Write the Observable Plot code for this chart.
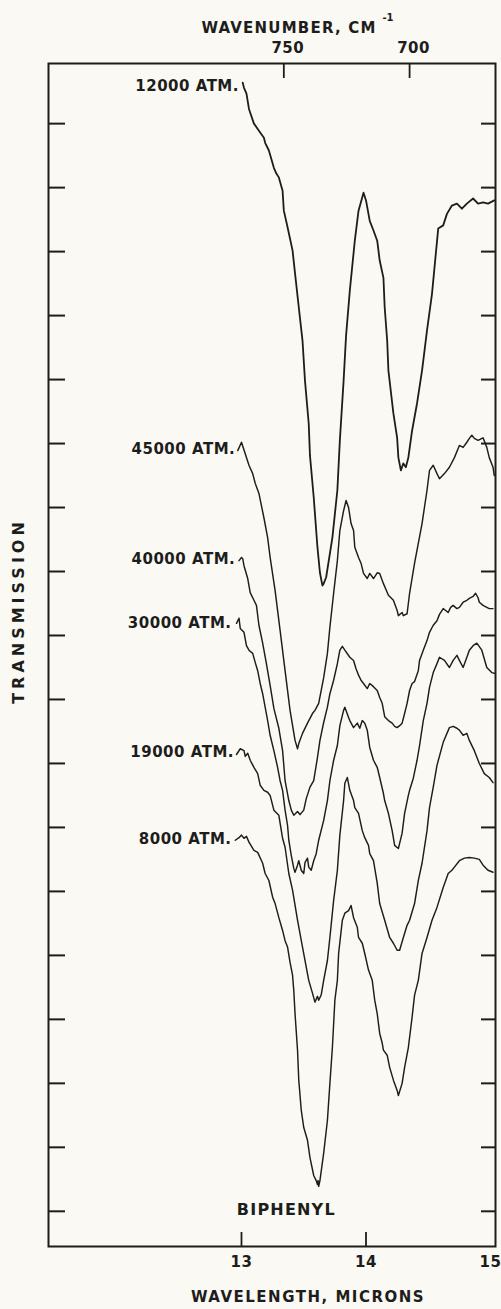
<!DOCTYPE html>
<html><head><meta charset="utf-8">
<script src="https://cdn.jsdelivr.net/npm/d3@7"></script>
<script src="https://cdn.jsdelivr.net/npm/@observablehq/plot@0.6"></script>
<style>
html,body{margin:0;padding:0;background:#faf9f4;}
#chart svg{display:block;}
</style></head><body><div id="chart"></div>
<script>
// Wavelength (microns) vs transmission (chart divisions, offset per pressure)
const s12000 = [[13.01,17.64],[13.02,17.56],[13.04,17.47],[13.06,17.23],[13.10,17.00],[13.14,16.89],[13.18,16.78],[13.19,16.70],[13.22,16.58],[13.26,16.31],[13.28,16.22],[13.30,16.16],[13.33,15.95],[13.34,15.64],[13.37,15.38],[13.41,15.02],[13.43,14.66],[13.46,14.13],[13.49,13.61],[13.51,12.98],[13.54,12.31],[13.55,11.81],[13.58,11.16],[13.61,10.38],[13.63,9.98],[13.65,9.78],[13.66,9.81],[13.68,9.91],[13.73,10.53],[13.77,11.27],[13.79,12.05],[13.82,12.98],[13.84,13.69],[13.87,14.39],[13.91,15.17],[13.94,15.64],[13.98,15.92],[14.00,15.80],[14.03,15.48],[14.06,15.33],[14.09,15.17],[14.11,14.86],[14.14,14.59],[14.15,14.13],[14.17,13.61],[14.18,13.14],[14.22,12.47],[14.25,12.09],[14.26,11.78],[14.28,11.58],[14.30,11.69],[14.32,11.63],[14.34,11.78],[14.37,12.20],[14.41,12.63],[14.45,13.14],[14.49,13.77],[14.53,14.34],[14.55,14.75],[14.58,15.36],[14.62,15.41],[14.65,15.59],[14.69,15.72],[14.73,15.75],[14.77,15.67],[14.81,15.75],[14.86,15.83],[14.90,15.75],[14.94,15.77],[14.98,15.75],[15.03,15.80]];
const s45000 = [[12.97,11.89],[13.00,12.02],[13.03,11.84],[13.06,11.66],[13.09,11.53],[13.11,11.38],[13.14,11.22],[13.18,10.84],[13.21,10.53],[13.23,10.22],[13.27,9.70],[13.31,9.08],[13.35,8.45],[13.39,7.83],[13.43,7.36],[13.45,7.23],[13.46,7.31],[13.49,7.47],[13.53,7.63],[13.57,7.78],[13.59,7.83],[13.62,7.94],[13.66,8.34],[13.69,8.72],[13.71,9.13],[13.74,9.66],[13.77,10.17],[13.79,10.64],[13.82,10.95],[13.84,11.11],[13.86,11.00],[13.88,10.75],[13.90,10.64],[13.91,10.38],[13.94,10.22],[13.96,10.13],[13.98,9.97],[14.01,9.89],[14.03,9.97],[14.06,9.89],[14.09,9.98],[14.11,9.97],[14.14,9.81],[14.18,9.63],[14.22,9.55],[14.25,9.39],[14.26,9.31],[14.29,9.36],[14.30,9.31],[14.33,9.34],[14.35,9.66],[14.39,10.13],[14.45,10.75],[14.49,11.27],[14.51,11.58],[14.54,11.66],[14.57,11.53],[14.59,11.45],[14.63,11.53],[14.67,11.63],[14.71,11.78],[14.75,11.97],[14.78,11.94],[14.81,12.02],[14.83,12.08],[14.85,12.13],[14.87,12.08],[14.90,12.05],[14.94,12.09],[14.97,11.94],[14.99,11.78],[15.02,11.63],[15.03,11.50]];
const s40000 = [[12.98,10.17],[13.00,10.22],[13.01,10.20],[13.02,10.09],[13.05,9.89],[13.07,9.67],[13.10,9.55],[13.12,9.47],[13.14,9.16],[13.17,8.88],[13.20,8.56],[13.23,8.22],[13.26,7.86],[13.30,7.55],[13.33,7.20],[13.35,6.73],[13.38,6.42],[13.40,6.27],[13.42,6.19],[13.45,6.25],[13.47,6.20],[13.50,6.27],[13.52,6.45],[13.55,6.63],[13.58,6.73],[13.61,7.09],[13.63,7.36],[13.66,7.64],[13.69,7.88],[13.71,8.09],[13.74,8.30],[13.77,8.56],[13.79,8.77],[13.81,8.83],[13.83,8.77],[13.87,8.66],[13.90,8.61],[13.92,8.48],[13.94,8.38],[13.96,8.30],[13.98,8.25],[14.01,8.17],[14.03,8.25],[14.06,8.20],[14.09,8.14],[14.11,8.03],[14.13,7.94],[14.15,7.73],[14.18,7.67],[14.21,7.63],[14.23,7.58],[14.25,7.56],[14.27,7.59],[14.29,7.63],[14.31,7.78],[14.33,7.94],[14.35,8.14],[14.37,8.25],[14.39,8.28],[14.42,8.45],[14.43,8.61],[14.46,8.77],[14.49,8.92],[14.51,9.05],[14.54,9.16],[14.57,9.23],[14.59,9.33],[14.62,9.42],[14.64,9.39],[14.66,9.36],[14.68,9.44],[14.70,9.47],[14.73,9.42],[14.75,9.44],[14.78,9.52],[14.81,9.55],[14.83,9.58],[14.86,9.61],[14.88,9.66],[14.90,9.59],[14.91,9.52],[14.94,9.47],[14.97,9.44],[14.99,9.42],[15.02,9.42]];
const s30000 = [[12.96,9.19],[12.98,9.27],[12.99,9.11],[13.02,9.05],[13.04,8.84],[13.06,8.77],[13.09,8.72],[13.11,8.58],[13.13,8.45],[13.15,8.25],[13.17,8.09],[13.19,7.88],[13.21,7.67],[13.23,7.44],[13.26,7.20],[13.29,6.94],[13.31,6.73],[13.33,6.58],[13.35,6.27],[13.37,6.03],[13.38,5.80],[13.40,5.56],[13.42,5.36],[13.43,5.30],[13.45,5.41],[13.46,5.48],[13.48,5.33],[13.50,5.28],[13.51,5.45],[13.53,5.52],[13.54,5.38],[13.56,5.33],[13.58,5.48],[13.60,5.59],[13.62,5.80],[13.66,6.11],[13.69,6.42],[13.71,6.73],[13.74,7.05],[13.77,7.28],[13.79,7.59],[13.82,7.83],[13.83,7.88],[13.86,7.72],[13.87,7.67],[13.90,7.56],[13.93,7.63],[13.95,7.55],[13.97,7.67],[13.99,7.63],[14.01,7.52],[14.03,7.25],[14.06,7.05],[14.09,6.94],[14.11,6.78],[14.14,6.53],[14.15,6.42],[14.18,6.22],[14.21,5.95],[14.23,5.72],[14.26,5.67],[14.27,5.75],[14.29,5.91],[14.31,6.22],[14.34,6.50],[14.35,6.58],[14.38,6.77],[14.41,7.05],[14.43,7.28],[14.46,7.67],[14.49,7.94],[14.51,8.19],[14.54,8.42],[14.57,8.56],[14.59,8.66],[14.63,8.61],[14.67,8.50],[14.70,8.61],[14.73,8.69],[14.75,8.61],[14.78,8.50],[14.81,8.66],[14.83,8.77],[14.86,8.84],[14.89,8.88],[14.93,8.77],[14.97,8.50],[15.01,8.42],[15.03,8.41]];
const s19000 = [[12.96,7.14],[12.99,7.23],[13.02,7.20],[13.03,7.11],[13.05,7.16],[13.07,7.05],[13.10,6.94],[13.13,6.84],[13.15,6.66],[13.18,6.58],[13.21,6.55],[13.23,6.50],[13.26,6.27],[13.28,6.23],[13.30,6.19],[13.33,5.83],[13.35,5.69],[13.38,5.28],[13.41,5.02],[13.45,4.55],[13.49,4.13],[13.54,3.61],[13.57,3.41],[13.59,3.27],[13.61,3.36],[13.62,3.30],[13.64,3.38],[13.66,3.61],[13.69,3.92],[13.71,4.28],[13.74,4.86],[13.77,5.33],[13.79,5.88],[13.82,6.42],[13.83,6.69],[13.85,6.78],[13.87,6.58],[13.90,6.42],[13.91,6.31],[13.94,6.22],[13.97,5.95],[13.99,5.84],[14.02,5.72],[14.03,5.59],[14.06,5.48],[14.09,5.13],[14.11,4.81],[14.15,4.55],[14.19,4.28],[14.22,4.19],[14.25,4.08],[14.27,4.08],[14.30,4.28],[14.33,4.47],[14.35,4.55],[14.39,4.81],[14.42,5.17],[14.45,5.44],[14.49,5.95],[14.51,6.31],[14.54,6.63],[14.57,6.97],[14.62,7.33],[14.65,7.47],[14.67,7.56],[14.70,7.58],[14.73,7.55],[14.75,7.52],[14.78,7.44],[14.81,7.47],[14.83,7.36],[14.87,7.20],[14.91,7.00],[14.95,6.84],[14.99,6.78],[15.02,6.70]];
const s8000 = [[12.95,5.80],[12.98,5.84],[13.00,5.88],[13.02,5.83],[13.04,5.86],[13.06,5.77],[13.10,5.64],[13.13,5.61],[13.17,5.44],[13.19,5.28],[13.22,5.17],[13.25,4.91],[13.27,4.81],[13.30,4.59],[13.33,4.39],[13.35,4.23],[13.37,4.13],[13.39,3.89],[13.41,3.69],[13.42,3.45],[13.43,3.09],[13.45,2.52],[13.46,2.05],[13.48,1.58],[13.50,1.31],[13.53,1.11],[13.55,0.84],[13.58,0.56],[13.60,0.48],[13.61,0.42],[13.615,0.48],[13.62,0.39],[13.63,0.48],[13.66,0.91],[13.69,1.42],[13.71,2.00],[13.73,2.56],[13.75,3.30],[13.77,3.61],[13.78,4.03],[13.81,4.55],[13.83,4.66],[13.86,4.70],[13.88,4.78],[13.90,4.59],[13.93,4.44],[13.94,4.28],[13.97,4.19],[13.99,4.03],[14.02,3.77],[14.05,3.61],[14.07,3.30],[14.09,3.09],[14.11,2.78],[14.13,2.63],[14.14,2.52],[14.17,2.44],[14.19,2.25],[14.22,2.05],[14.25,1.89],[14.26,1.81],[14.29,2.00],[14.31,2.25],[14.34,2.56],[14.37,3.03],[14.39,3.38],[14.42,3.61],[14.45,4.03],[14.49,4.28],[14.53,4.55],[14.57,4.75],[14.62,5.06],[14.66,5.28],[14.69,5.33],[14.71,5.38],[14.75,5.48],[14.79,5.52],[14.83,5.53],[14.87,5.52],[14.91,5.50],[14.94,5.41],[14.98,5.33],[15.02,5.30]];

const curveNames = ["12000 ATM.","45000 ATM.","40000 ATM.","30000 ATM.","19000 ATM.","8000 ATM."];
const curveLabelX = [12.98, 12.95, 12.95, 12.92, 12.94, 12.92];
const curveLabelY = [17.59, 11.91, 10.20, 9.20, 7.17, 5.81];

const wavelengthTicks = [13, 14, 15];
const wavenumberLabels = ["750", "700"];
const wavenumberTickPos = [13.34, 14.35];
const transmissionTicks = d3.range(0, 18);
const sampleName = "BIPHENYL";
const sampleLabelX = 13.36, sampleLabelY = 0.02;

const allSeries = [s12000, s45000, s40000, s30000, s19000, s8000];
const rows = allSeries.flatMap((s, i) => s.map(([x, y]) => ({series: curveNames[i], x, y})));
const labels = curveNames.map((name, i) => ({name, x: curveLabelX[i], y: curveLabelY[i]}));

const W = 501, H = 1309, mL = 48, mR = 6, mT = 63, mB = 63;
const fw = W - mL - mR, fh = H - mT - mB;
const ink = "#1d1d1b";
const font = "DejaVu Sans";
const T = {fill: ink, fontWeight: "bold", textAnchor: "middle", lineAnchor: "middle"};

const plot = Plot.plot({
  width: W, height: H,
  marginLeft: mL, marginRight: mR, marginTop: mT, marginBottom: mB,
  style: {background: "#faf9f4", fontFamily: font, color: ink, overflow: "visible"},
  x: {domain: [11.45, 15.04], axis: null},
  y: {domain: [-0.55, 17.94], axis: null},
  marks: [
    Plot.frame({stroke: ink, strokeWidth: 2}),
    Plot.tickY(transmissionTicks, {stroke: ink, strokeWidth: 2, insetRight: fw - 17}),
    Plot.tickY(transmissionTicks, {stroke: ink, strokeWidth: 2, insetLeft: fw - 14}),
    Plot.tickX(wavelengthTicks.filter(d => d < 15), {stroke: ink, strokeWidth: 1.8, insetTop: fh - 14}),
    Plot.tickX(wavenumberTickPos, {stroke: ink, strokeWidth: 1.8, insetBottom: fh - 15}),
    Plot.line(rows, {x: "x", y: "y", z: "series", stroke: ink,
      strokeWidth: d => d.series === "12000 ATM." ? 1.8 : 1.45, strokeLinejoin: "round"}),
    Plot.text(labels, {x: "x", y: "y", text: "name", ...T, textAnchor: "end", fontSize: 15}),
    Plot.text([sampleName], {x: [sampleLabelX], y: [sampleLabelY], text: d => d, ...T, fontSize: 16}),
    Plot.text(wavelengthTicks, {x: d => d, text: d => String(d), frameAnchor: "bottom", dy: 16, ...T, fontSize: 15}),
    Plot.text(wavenumberLabels, {x: wavenumberTickPos, text: d => d, frameAnchor: "top", dy: -15, dx: 4, ...T, fontSize: 15}),
    Plot.text(["WAVENUMBER, CM"], {frameAnchor: "top", dx: 17, dy: -35, ...T, fontSize: 15}),
    Plot.text(["-1"], {frameAnchor: "top", dx: 116, dy: -46, ...T, fontSize: 10}),
    Plot.text(["WAVELENGTH, MICRONS"], {frameAnchor: "bottom", dx: 36, dy: 51, ...T, fontSize: 15}),
    Plot.text(["TRANSMISSION"], {frameAnchor: "left", dx: -30, dy: -44, rotate: -90, ...T, fontSize: 16})
  ]
});

const spacing = new Map([["WAVENUMBER, CM", 1.2], ["WAVELENGTH, MICRONS", 1.5], ["TRANSMISSION", 4], ["BIPHENYL", 1.2], ["-1", 0]]);
d3.select(plot).selectAll("text").each(function() {
  const t = this.textContent;
  const s = spacing.has(t) ? spacing.get(t) : 0.5;
  this.style.letterSpacing = s + "px";
});
document.getElementById("chart").appendChild(plot);
</script>
</body></html>
